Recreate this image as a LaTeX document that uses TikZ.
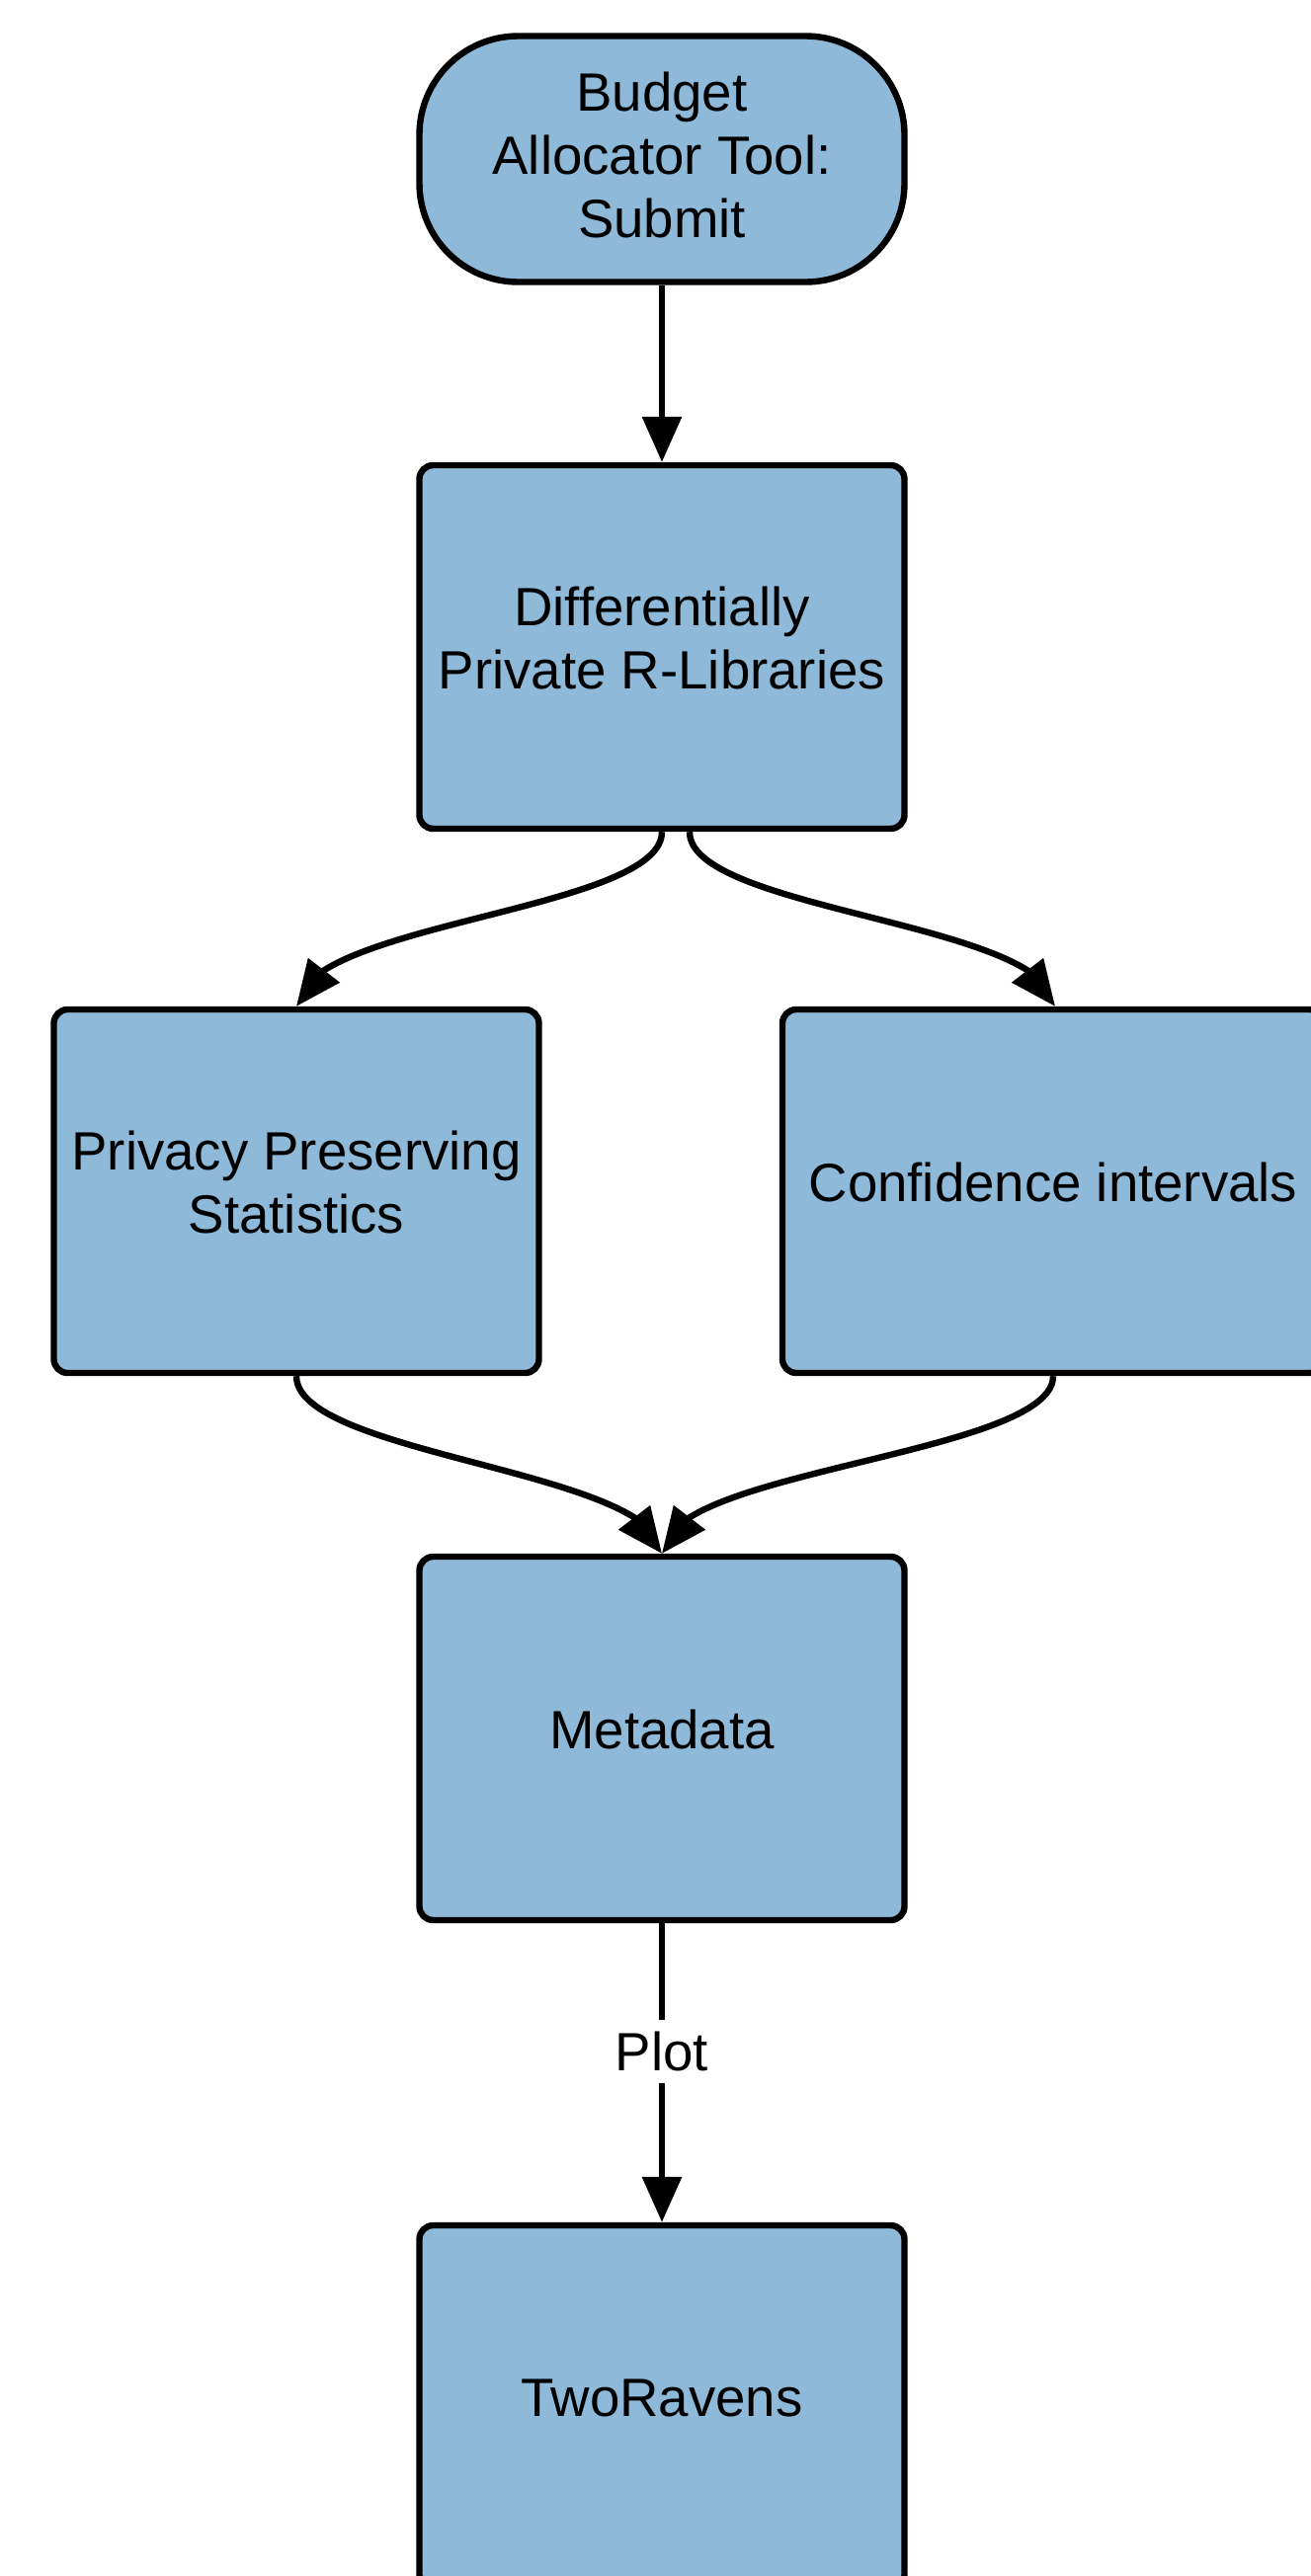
\documentclass[tikz,border=0pt]{standalone}
\usepackage{fontspec}
\setmainfont{Liberation Sans}
\usetikzlibrary{arrows.meta}
\definecolor{boxblue}{RGB}{142,185,217}
\begin{document}
\begin{tikzpicture}[x=0.5pt,y=-0.5pt,
  box/.style={draw=black, fill=boxblue, line width=3.2pt, rounded corners=7pt,
    minimum width=245.5pt, minimum height=184pt, inner sep=0pt},
  termbox/.style={box, rounded corners=50pt, minimum height=124.5pt},
  txt/.style={align=center, inner sep=0pt, font=\fontsize{27.3}{32}\selectfont},
  conn/.style={line width=3.2pt, -{Triangle[length=23pt,width=19.5pt]}},
  lbl/.style={fill=white, inner xsep=2pt, inner ysep=6pt, font=\fontsize{27.3}{32}\selectfont}
]
\useasboundingbox (0,0) rectangle (1327,2608);
\clip (0,0) rectangle (1327,2608);

\node[termbox] (term) at (670,161) {};
\node[txt] (term-t) at ([yshift=2pt]term.center) {Budget\\Allocator Tool:\\Submit};
\node[box] (diff) at (670,655) {};
\node[txt] (diff-t) at ([yshift=4.5pt]diff.center) {Differentially\\Private R-Libraries};
\node[box] (pps) at (300,1206) {};
\node[txt] (pps-t) at ([yshift=4.5pt]pps.center) {Privacy Preserving\\Statistics};
\node[box, minimum width=274pt] (ci) at (1066,1206) {};
\node[txt] (ci-t) at ([yshift=4.5pt]ci.center) {Confidence intervals};
\node[box] (meta) at (670,1760) {};
\node[txt] (meta-t) at ([yshift=4.5pt]meta.center) {Metadata};
\node[box] (two) at (670,2437) {};
\node[txt] (two-t) at ([yshift=4.5pt]two.center) {TwoRavens};

% connector end points
\coordinate (dL) at (diff.south);
\coordinate (dR) at ([xshift=14pt]diff.south);
\coordinate (pT) at (pps.north);
\coordinate (cT) at ([xshift=1pt]ci.north);
\coordinate (pB) at (pps.south);
\coordinate (cB) at (ci.south);
% bases of the arrow heads
\coordinate (pTb) at ([shift={(28,-36.5)}]pT);
\coordinate (cTb) at ([shift={(-28,-36.5)}]cT);
\coordinate (mL) at ([shift={(-28,-36.5)}]meta.north);
\coordinate (mR) at ([shift={(28,-36.5)}]meta.north);

\draw[conn] (term.south) -- (diff.north);
\draw[conn] (dL) .. controls +(0,67) and +(86,-54) .. (pTb) -- (pT);
\draw[conn] (dR) .. controls +(0,67) and +(-86,-54) .. (cTb) -- (cT);
\draw[conn] (pB) .. controls +(0,67) and +(-86,-54) .. (mL) -- (meta.north);
\draw[conn] (cB) .. controls +(0,67) and +(86,-54) .. (mR) -- (meta.north);
\draw[conn] (meta.south) -- node[lbl, pos=0.43] {Plot} (two.north);
\end{tikzpicture}
\end{document}
